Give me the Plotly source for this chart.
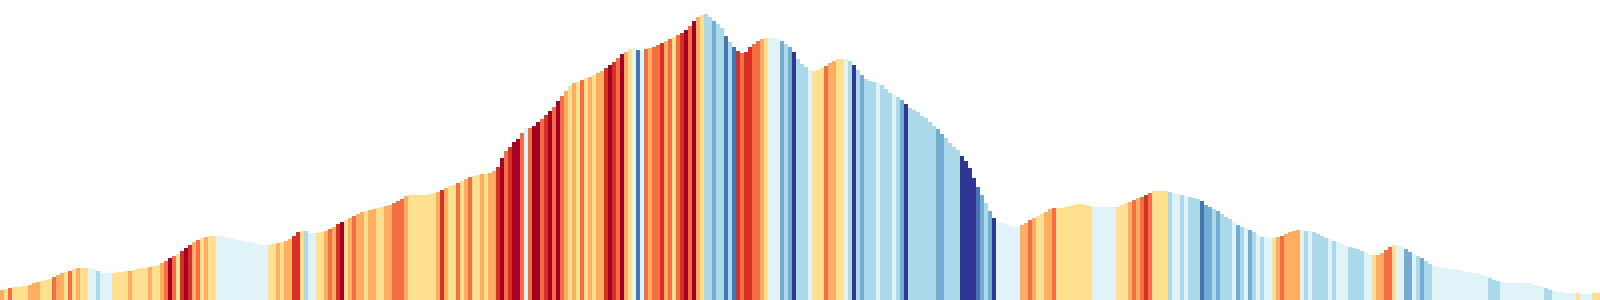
import plotly.graph_objects as go

# Elevation profile (arbitrary height units), one value per profile segment
elevation = [
    10, 11, 12, 13, 13, 14, 14, 15, 17, 18, 19, 20, 21, 23, 25, 27, 28, 29, 31, 32,
    32, 32, 32, 31, 29, 27, 27, 27, 27, 28, 28, 29, 29, 30, 31, 32, 32, 33, 34, 35,
    37, 39, 42, 44, 46, 49, 52, 55, 58, 60,
    62, 63, 64, 64, 64, 64, 63, 62, 61, 60, 59, 58, 58, 57, 56, 55, 55, 55, 56, 57,
    58, 59, 61, 64, 68, 69, 69, 67, 67, 67, 68, 69, 71, 73, 76, 78, 80, 82, 84, 86,
    88, 89, 90, 91, 92, 93, 94, 95, 97, 99,
    101, 104, 105, 105, 105, 105, 105, 106, 107, 108, 110, 112, 114, 115, 117, 119, 121, 123, 124, 125,
    126, 126, 127, 129, 133, 142, 149, 153, 158, 161, 167, 172, 172, 174, 178, 181, 185, 189, 193, 199,
    204, 209, 214, 217, 218, 220, 222, 223, 225, 227,
    229, 232, 235, 238, 242, 246, 248, 251, 252, 250, 249, 251, 252, 253, 255, 257, 259, 261, 263, 265,
    267, 270, 274, 279, 283, 285, 286, 283, 279, 276, 272, 264, 258, 253, 249, 247, 248, 253, 256, 259,
    261, 262, 262, 262, 261, 259, 256, 253, 248, 241,
    236, 233, 230, 229, 230, 232, 234, 237, 239, 241, 241, 241, 239, 235, 230, 225, 221, 219, 218, 217,
    215, 211, 207, 205, 203, 200, 196, 192, 190, 188, 184, 182, 178, 174, 171, 166, 162, 157, 153, 150,
    144, 139, 132, 122, 113, 105, 97, 89, 82, 77,
    77, 76, 74, 73, 73, 75, 77, 80, 82, 84, 86, 88, 91, 92, 92, 92, 93, 94, 95, 96,
    96, 95, 94, 93, 93, 93, 93, 93, 93, 93, 95, 97, 98, 100, 102, 103, 105, 107, 109, 109,
    109, 109, 108, 107, 106, 105, 104, 103, 102, 101,
    99, 95, 93, 91, 89, 86, 83, 81, 78, 75, 73, 72, 70, 68, 65, 63, 63, 62, 62, 63,
    64, 66, 68, 69, 70, 70, 69, 69, 68, 66, 64, 62, 61, 59, 58, 56, 54, 53, 52, 51,
    49, 47, 45, 45, 45, 47, 50, 53, 55, 55,
    53, 51, 48, 46, 44, 42, 39, 36, 34, 33, 32, 32, 31, 31, 30, 29, 28, 28, 27, 27,
    25, 24, 22, 20, 19, 18, 17, 17, 17, 17, 17, 17, 17, 15, 14, 13, 12, 10, 9, 8,
    8, 7, 7, 7, 7, 6, 6, 6, 7, 7,
]

# Gradient class per segment: 5 = steepest climb ... -5 = steepest descent
grade_class = [
    2, 1, 3, 1, 1, 1, 1, 2, 2, 2, 1, 1, 1, 3, 2, 2, 1, 3, 1, 2,
    1, 1, -1, -1, -2, -1, -1, -1, 1, 1, 1, 1, 2, 1, 1, 1, 1, 2, 1, 1,
    2, 3, 5, 3, 1, 4, 5, 4, 2, 3,
    1, 2, 1, 1, -1, -1, -1, -1, -1, -1, -1, -1, -1, -1, -1, -1, -1, 1, 1, 2,
    1, 2, 2, 4, 4, 1, -2, -1, -1, 1, 1, 2, 3, 2, 4, 5, 1, 2, 3, 2,
    2, 1, 2, 2, 1, 1, 2, 2, 3, 3,
    3, 2, 1, 1, 1, 1, 1, 1, 1, 2, 4, 2, 1, 1, 3, 1, 2, 3, 1, 1,
    2, 1, 2, 2, 4, 5, 3, 4, 5, 5, 3, -1, 3, 5, 5, 3, 4, 5, 3, 5,
    3, 2, 1, 2, 1, 3, 1, 2, 1, 2,
    2, 4, 5, 4, 3, 5, 2, 1, -1, -4, -1, 3, 2, 3, 3, 4, 2, 3, 1, 3,
    4, 5, 3, 5, 2, 1, -2, -2, -3, -2, -2, -4, -2, -4, 4, 3, 4, 4, 3, 3,
    2, 1, -1, -1, -1, -3, -2, -3, -5, -2,
    -2, -2, -1, 1, 1, 1, 3, 2, 2, 1, 1, -1, -2, -5, -2, -3, -2, -2, -2, -1,
    -2, -2, -2, -1, -2, -3, -5, -2, -2, -2, -2, -2, -2, -2, -3, -3, -2, -2, -2, -2,
    -5, -5, -5, -5, -4, -3, -2, -3, -5, -1,
    -1, -1, -1, -1, -1, 2, 2, 3, 2, 1, 1, 2, 2, 3, 1, 1, 1, 1, 1, 1,
    1, 1, 1, -1, -1, -1, -1, -1, -1, 1, 1, 1, 2, 3, 2, 3, 4, 3, 1, 1,
    1, 1, -2, -1, -1, -2, -1, -2, -2, -2,
    -4, -3, -3, -2, -3, -2, -2, -2, -1, -3, -2, -1, -3, -2, -1, -2, -1, -1, 1, 2,
    3, 2, 2, 2, 2, -1, -2, -1, -2, -2, -2, -2, -1, -2, -1, -1, -1, -2, -2, -2,
    -2, -1, -1, 1, 2, 2, 3, 3, 1, -1,
    -1, -3, -3, -1, -2, -3, -2, -2, -1, -1, -1, -1, -1, -1, -1, -1, -1, -1, -1, -1,
    -1, -1, -2, -2, -2, -1, -1, -1, -1, -1, -1, -1, -1, -1, -1, -1, -2, -2, -1, -1,
    -1, -1, -1, -1, 1, -1, -1, -1, 1, 1,
]

class_colors = {
    5: "#a50026", 4: "#d73027", 3: "#f46d43", 2: "#fdae61", 1: "#fee090",
    -1: "#e0f3f8", -2: "#abd9e9", -3: "#74add1", -4: "#4575b4", -5: "#313695",
}

segment = list(range(len(elevation)))
colors = [class_colors[c] for c in grade_class]

fig = go.Figure(
    go.Bar(
        x=segment,
        y=elevation,
        marker=dict(color=colors, line=dict(width=0)),
        hoverinfo="skip",
    )
)

fig.update_layout(
    width=1600,
    height=300,
    margin=dict(l=0, r=0, t=0, b=0),
    paper_bgcolor="white",
    plot_bgcolor="white",
    bargap=0,
    showlegend=False,
    xaxis=dict(visible=False, range=[-0.5, len(elevation) - 0.5], fixedrange=True),
    yaxis=dict(visible=False, range=[0, 300], fixedrange=True),
)

fig.write_html("out.html", config={"displayModeBar": False})
